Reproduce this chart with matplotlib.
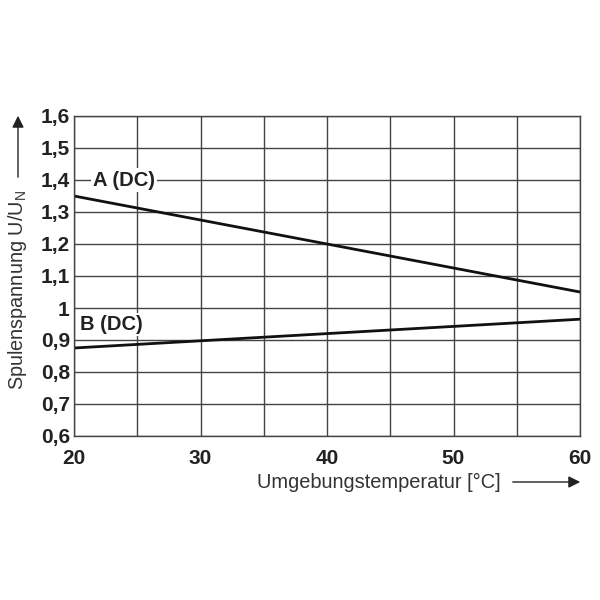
import matplotlib
matplotlib.use("Agg")
import matplotlib.pyplot as plt

temp = [20, 60]
series_a = [1.35, 1.05]
series_b = [0.875, 0.965]
xticks = [20, 30, 40, 50, 60]
yticks = [0.6, 0.7, 0.8, 0.9, 1.0, 1.1, 1.2, 1.3, 1.4, 1.5, 1.6]
ytick_labels = ["0,6", "0,7", "0,8", "0,9", "1", "1,1", "1,2", "1,3", "1,4", "1,5", "1,6"]

plt.rcParams['font.family'] = ['Liberation Sans', 'DejaVu Sans']

fig = plt.figure(figsize=(6, 6), dpi=100)
ax = fig.add_axes([74/600, 1-436/600, (580-74)/600, (436-116)/600])

ax.set_xlim(20, 60)
ax.set_ylim(0.6, 1.6)
ax.set_yticks(yticks)
ax.grid(True, color='#444444', linewidth=1.0)
ax.set_axisbelow(True)
for s in ax.spines.values():
    s.set_color('#444444')
    s.set_linewidth(1.0)
ax.set_xticks(range(20, 61, 5))
ax.set_xticklabels([str(v) if v in xticks else "" for v in range(20, 61, 5)],
                   fontsize=15, fontweight='bold', color='#222222')
ax.set_yticklabels(ytick_labels, fontsize=15, fontweight='bold', color='#222222')
ax.tick_params(axis='x', length=0, pad=9)
ax.tick_params(axis='y', length=0, pad=3)

ax.plot(temp, series_a, color='#111111', linewidth=2.0)
ax.plot(temp, series_b, color='#111111', linewidth=2.0)

ax.text(21.5, 1.4, "A (DC)", fontsize=14.5, fontweight='bold', color='#222222',
        va='center', ha='left', bbox=dict(facecolor='white', edgecolor='none', pad=1.5))
ax.text(20.5, 0.947, "B (DC)", fontsize=14.5, fontweight='bold', color='#222222',
        va='center', ha='left', bbox=dict(facecolor='white', edgecolor='none', pad=1.5))

fig.text(18/600, 1-290/600, "Spulenspannung U/U$_\\mathregular{N}$", rotation=90,
         fontsize=14.3, color='#333333', ha='center', va='center')
fig.add_artist(matplotlib.patches.FancyArrowPatch((18/600, 1-180/600), (18/600, 1-113/600),
               transform=fig.transFigure, arrowstyle='-|>,head_length=7,head_width=3.5',
               color='#222222', linewidth=1.0))

fig.text(379/600, 1-482/600, "Umgebungstemperatur [°C]", fontsize=14.4, color='#333333',
         ha='center', va='center')
fig.add_artist(matplotlib.patches.FancyArrowPatch((510/600, 1-482/600), (583/600, 1-482/600),
               transform=fig.transFigure, arrowstyle='-|>,head_length=7,head_width=3.5',
               color='#222222', linewidth=1.0))

fig.savefig("out.png", dpi=100, facecolor='white')
